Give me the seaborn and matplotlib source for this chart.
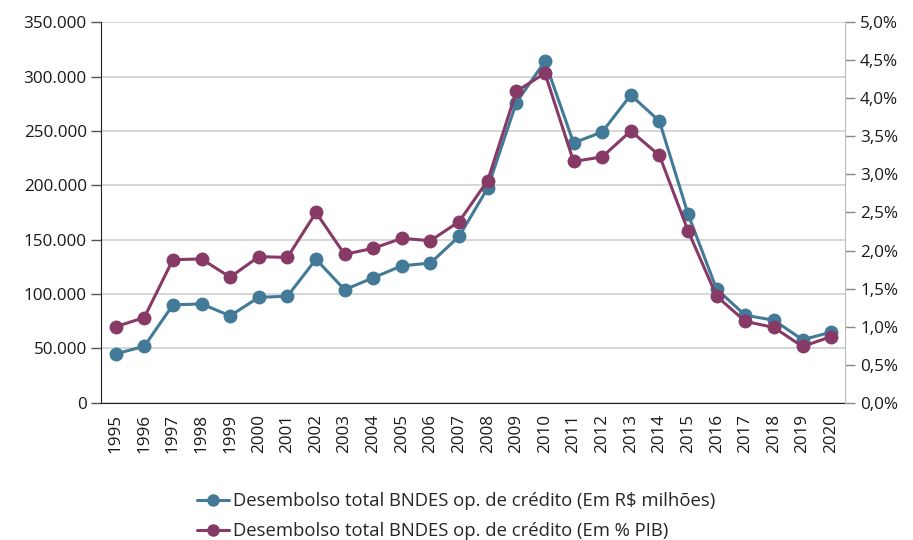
import numpy as np
import matplotlib
matplotlib.use("Agg")
import matplotlib.pyplot as plt
import matplotlib.ticker as mticker
import pandas as pd
import seaborn as sns

sns.set_style("white")
plt.rcParams['font.family'] = ['Open Sans', 'DejaVu Sans']

years = [str(y) for y in range(1995, 2021)]
desembolso_rs = [45000, 52000, 90000, 91000, 80000, 97000, 98000, 132000, 104000, 115000,
                 126000, 128500, 153000, 197500, 276000, 314000, 239000, 249000, 283000, 259000,
                 173500, 104500, 80500, 76000, 58000, 65000]
desembolso_pib = [1.00, 1.12, 1.88, 1.89, 1.65, 1.92, 1.91, 2.50, 1.95, 2.03,
                  2.16, 2.13, 2.38, 2.92, 4.09, 4.33, 3.17, 3.23, 3.57, 3.25,
                  2.26, 1.40, 1.07, 0.99, 0.74, 0.87]
label_rs = "Desembolso total BNDES op. de crédito (Em R$ milhões)"
label_pib = "Desembolso total BNDES op. de crédito (Em % PIB)"

blue = "#427A98"
purple = "#873A65"

df = pd.DataFrame({"ano": np.arange(len(years)), "rs": desembolso_rs, "pib": desembolso_pib})

fig = plt.figure(figsize=(9.13, 5.40), dpi=100)
ax = fig.add_axes([0.111, 0.254, 0.815, 0.705])
ax2 = ax.twinx()

sns.lineplot(data=df, x="ano", y="rs", ax=ax, color=blue, marker="o", markersize=10,
             markeredgewidth=0, linewidth=2.2, label=label_rs, legend=False, zorder=3)
sns.lineplot(data=df, x="ano", y="pib", ax=ax2, color=purple, marker="o", markersize=10,
             markeredgewidth=0, linewidth=2.2, label=label_pib, legend=False, zorder=3)

ax.set_xlim(-0.5, len(years) - 0.5)
ax.set_ylim(0, 350000)
ax2.set_ylim(0, 5.0)
ax.set_yticks(np.arange(0, 350001, 50000))
ax.yaxis.set_major_formatter(mticker.FuncFormatter(lambda v, p: f"{int(v):,}".replace(",", ".")))
ax2.set_yticks(np.arange(0, 5.01, 0.5))
ax2.yaxis.set_major_formatter(mticker.FuncFormatter(lambda v, p: f"{v:.1f}%".replace(".", ",")))

ax.set_xticks(np.arange(len(years)))
ax.set_xticklabels(years, rotation=90)
ax.set_xticks(np.arange(-0.5, len(years)), minor=True)
ax.tick_params(axis="x", which="major", length=0, labelsize=12.3, pad=8, colors="#1a1a1a")
ax.tick_params(axis="x", which="minor", length=7, width=1, color="#555555")
ax.tick_params(axis="y", length=7, width=1, color="#555555", labelsize=12.3, labelcolor="#1a1a1a")
ax2.tick_params(axis="y", length=7, width=1, color="#888888", labelsize=12.3, labelcolor="#1a1a1a")

ax.grid(axis="y", color="#d0d0d0", linewidth=1.2)
ax.set_axisbelow(True)
ax.set_xlabel("")
ax.set_ylabel("")
ax2.set_ylabel("")

for a in (ax, ax2):
    a.spines["top"].set_visible(False)
ax.spines["left"].set_color("#222222")
ax.spines["bottom"].set_color("#222222")
ax.spines["right"].set_visible(False)
ax2.spines["left"].set_visible(False)
ax2.spines["bottom"].set_visible(False)
ax2.spines["right"].set_color("#bbbbbb")

h1, l1 = ax.get_legend_handles_labels()
h2, l2 = ax2.get_legend_handles_labels()
fig.legend(h1 + h2, l1 + l2, loc="center", bbox_to_anchor=(0.5, 0.044), ncol=1,
           frameon=False, fontsize=13.3, handlelength=1.7, handletextpad=0.25,
           labelspacing=0.66, markerscale=0.9, borderpad=0)

fig.savefig("out.png", dpi=100)
